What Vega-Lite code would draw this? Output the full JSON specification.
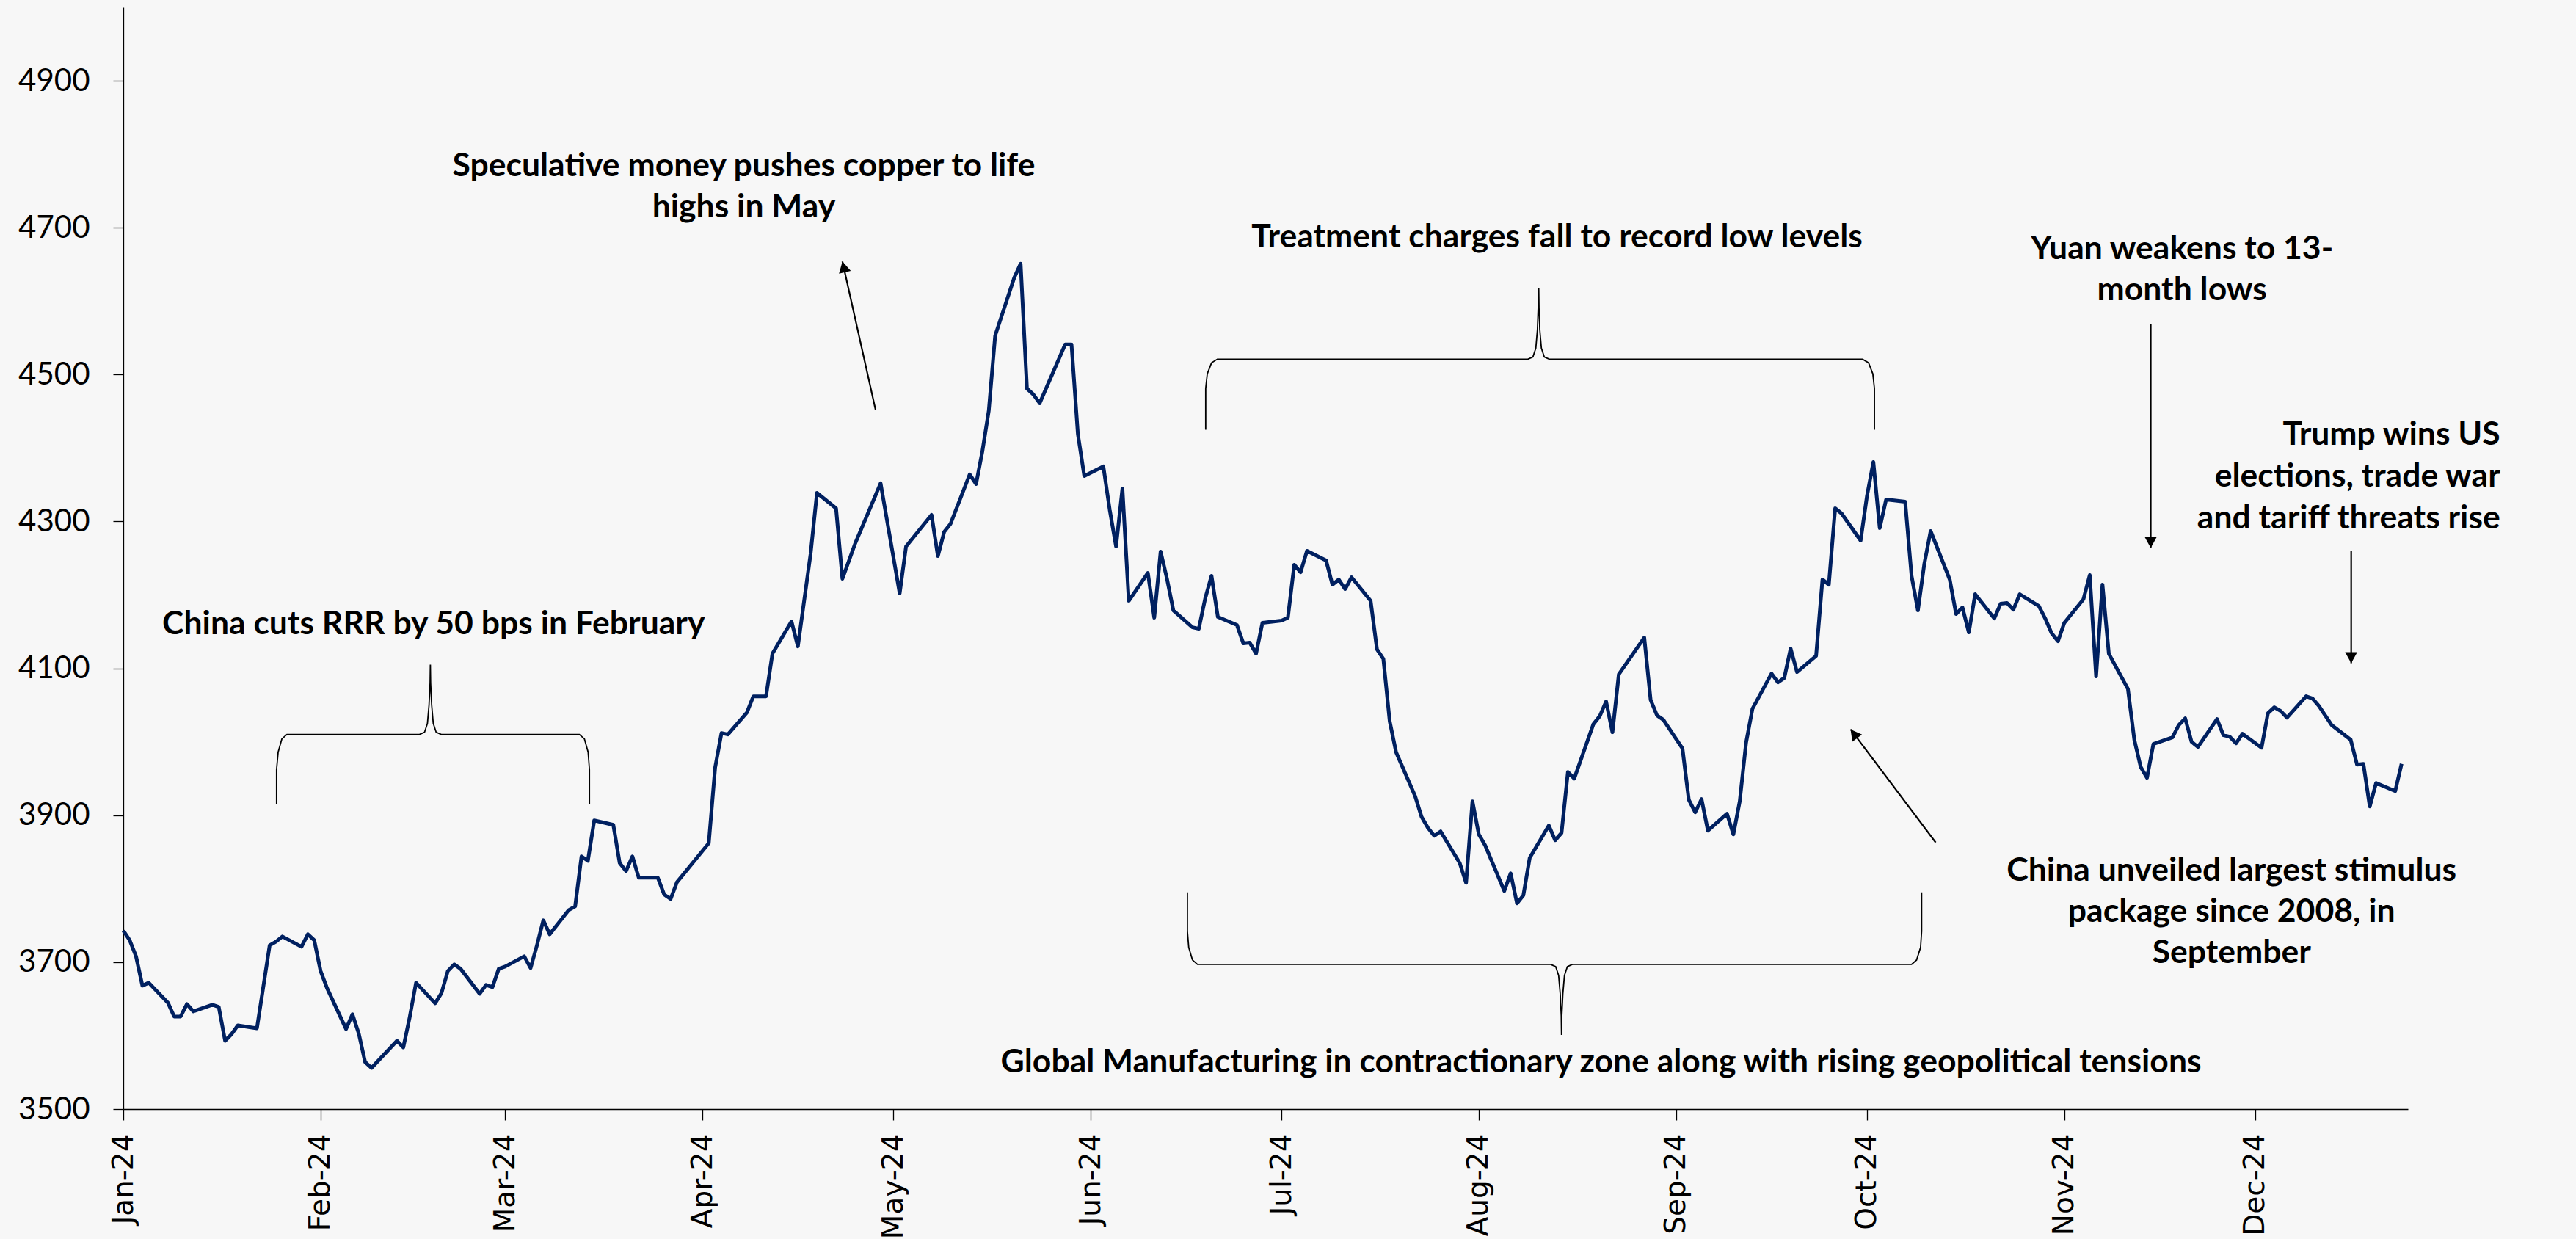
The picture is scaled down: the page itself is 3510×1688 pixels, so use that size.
{
  "$schema": "https://vega.github.io/schema/vega-lite/v6.json",
  "width": 3113,
  "height": 1501,
  "autosize": {"type": "none"},
  "padding": {"left": 168, "top": 10, "right": 229, "bottom": 177},
  "background": "#f7f7f7",
  "config": {"view": {"stroke": null}},
  "datasets": {
    "price": [
      {"date":"2024-01-01","value":3743},{"date":"2024-01-02","value":3730},{"date":"2024-01-03","value":3708},{"date":"2024-01-04","value":3668},{"date":"2024-01-05","value":3672},
      {"date":"2024-01-08","value":3645},{"date":"2024-01-09","value":3626},{"date":"2024-01-10","value":3626},{"date":"2024-01-11","value":3643},{"date":"2024-01-12","value":3633},
      {"date":"2024-01-15","value":3642},{"date":"2024-01-16","value":3639},{"date":"2024-01-17","value":3593},{"date":"2024-01-18","value":3602},{"date":"2024-01-19","value":3614},
      {"date":"2024-01-22","value":3610},{"date":"2024-01-24","value":3723},{"date":"2024-01-25","value":3728},{"date":"2024-01-26","value":3735},
      {"date":"2024-01-29","value":3721},{"date":"2024-01-30","value":3738},{"date":"2024-01-31","value":3730},{"date":"2024-02-01","value":3688},{"date":"2024-02-02","value":3665},
      {"date":"2024-02-05","value":3609},{"date":"2024-02-06","value":3629},{"date":"2024-02-07","value":3603},{"date":"2024-02-08","value":3564},{"date":"2024-02-09","value":3556},
      {"date":"2024-02-13","value":3593},{"date":"2024-02-14","value":3584},{"date":"2024-02-15","value":3625},{"date":"2024-02-16","value":3672},
      {"date":"2024-02-19","value":3644},{"date":"2024-02-20","value":3658},{"date":"2024-02-21","value":3688},{"date":"2024-02-22","value":3697},{"date":"2024-02-23","value":3691},
      {"date":"2024-02-26","value":3657},{"date":"2024-02-27","value":3669},{"date":"2024-02-28","value":3666},{"date":"2024-02-29","value":3691},{"date":"2024-03-01","value":3694},
      {"date":"2024-03-04","value":3708},{"date":"2024-03-05","value":3692},{"date":"2024-03-06","value":3723},{"date":"2024-03-07","value":3757},{"date":"2024-03-08","value":3738},
      {"date":"2024-03-11","value":3771},{"date":"2024-03-12","value":3776},{"date":"2024-03-13","value":3844},{"date":"2024-03-14","value":3838},{"date":"2024-03-15","value":3893},
      {"date":"2024-03-18","value":3887},{"date":"2024-03-19","value":3835},{"date":"2024-03-20","value":3824},{"date":"2024-03-21","value":3844},{"date":"2024-03-22","value":3815},
      {"date":"2024-03-25","value":3815},{"date":"2024-03-26","value":3792},{"date":"2024-03-27","value":3786},{"date":"2024-03-28","value":3809},
      {"date":"2024-04-02","value":3862},{"date":"2024-04-03","value":3965},{"date":"2024-04-04","value":4012},{"date":"2024-04-05","value":4010},
      {"date":"2024-04-08","value":4040},{"date":"2024-04-09","value":4062},{"date":"2024-04-11","value":4062},{"date":"2024-04-12","value":4120},
      {"date":"2024-04-15","value":4164},{"date":"2024-04-16","value":4130},{"date":"2024-04-18","value":4256},{"date":"2024-04-19","value":4339},
      {"date":"2024-04-22","value":4318},{"date":"2024-04-23","value":4222},{"date":"2024-04-25","value":4270},
      {"date":"2024-04-29","value":4352},{"date":"2024-05-02","value":4202},{"date":"2024-05-03","value":4266},
      {"date":"2024-05-07","value":4309},{"date":"2024-05-08","value":4253},{"date":"2024-05-09","value":4286},{"date":"2024-05-10","value":4297},
      {"date":"2024-05-13","value":4364},{"date":"2024-05-14","value":4351},{"date":"2024-05-15","value":4396},{"date":"2024-05-16","value":4451},{"date":"2024-05-17","value":4553},
      {"date":"2024-05-20","value":4632},{"date":"2024-05-21","value":4651},{"date":"2024-05-22","value":4481},{"date":"2024-05-23","value":4473},{"date":"2024-05-24","value":4461},
      {"date":"2024-05-28","value":4541},{"date":"2024-05-29","value":4541},{"date":"2024-05-30","value":4419},{"date":"2024-05-31","value":4362},
      {"date":"2024-06-03","value":4375},{"date":"2024-06-04","value":4316},{"date":"2024-06-05","value":4266},{"date":"2024-06-06","value":4345},{"date":"2024-06-07","value":4192},
      {"date":"2024-06-10","value":4230},{"date":"2024-06-11","value":4169},{"date":"2024-06-12","value":4259},{"date":"2024-06-13","value":4222},{"date":"2024-06-14","value":4179},
      {"date":"2024-06-17","value":4156},{"date":"2024-06-18","value":4154},{"date":"2024-06-19","value":4195},{"date":"2024-06-20","value":4226},{"date":"2024-06-21","value":4170},
      {"date":"2024-06-24","value":4159},{"date":"2024-06-25","value":4134},{"date":"2024-06-26","value":4135},{"date":"2024-06-27","value":4120},{"date":"2024-06-28","value":4162},
      {"date":"2024-07-01","value":4165},{"date":"2024-07-02","value":4169},{"date":"2024-07-03","value":4241},{"date":"2024-07-04","value":4231},{"date":"2024-07-05","value":4260},
      {"date":"2024-07-08","value":4247},{"date":"2024-07-09","value":4214},{"date":"2024-07-10","value":4221},{"date":"2024-07-11","value":4208},{"date":"2024-07-12","value":4224},
      {"date":"2024-07-15","value":4192},{"date":"2024-07-16","value":4126},{"date":"2024-07-17","value":4113},{"date":"2024-07-18","value":4028},{"date":"2024-07-19","value":3986},
      {"date":"2024-07-22","value":3926},{"date":"2024-07-23","value":3898},{"date":"2024-07-24","value":3883},{"date":"2024-07-25","value":3872},{"date":"2024-07-26","value":3878},
      {"date":"2024-07-29","value":3835},{"date":"2024-07-30","value":3808},{"date":"2024-07-31","value":3919},{"date":"2024-08-01","value":3874},{"date":"2024-08-02","value":3859},
      {"date":"2024-08-05","value":3797},{"date":"2024-08-06","value":3821},{"date":"2024-08-07","value":3780},{"date":"2024-08-08","value":3791},{"date":"2024-08-09","value":3842},
      {"date":"2024-08-12","value":3886},{"date":"2024-08-13","value":3866},{"date":"2024-08-14","value":3876},{"date":"2024-08-15","value":3959},{"date":"2024-08-16","value":3950},
      {"date":"2024-08-19","value":4024},{"date":"2024-08-20","value":4035},{"date":"2024-08-21","value":4055},{"date":"2024-08-22","value":4013},{"date":"2024-08-23","value":4092},
      {"date":"2024-08-27","value":4142},{"date":"2024-08-28","value":4057},{"date":"2024-08-29","value":4036},{"date":"2024-08-30","value":4030},
      {"date":"2024-09-02","value":3991},{"date":"2024-09-03","value":3921},{"date":"2024-09-04","value":3904},{"date":"2024-09-05","value":3922},{"date":"2024-09-06","value":3879},
      {"date":"2024-09-09","value":3902},{"date":"2024-09-10","value":3874},{"date":"2024-09-11","value":3919},{"date":"2024-09-12","value":3999},{"date":"2024-09-13","value":4045},
      {"date":"2024-09-16","value":4093},{"date":"2024-09-17","value":4081},{"date":"2024-09-18","value":4087},{"date":"2024-09-19","value":4127},{"date":"2024-09-20","value":4095},
      {"date":"2024-09-23","value":4117},{"date":"2024-09-24","value":4221},{"date":"2024-09-25","value":4214},{"date":"2024-09-26","value":4318},{"date":"2024-09-27","value":4311},
      {"date":"2024-09-30","value":4274},{"date":"2024-10-01","value":4335},{"date":"2024-10-02","value":4381},{"date":"2024-10-03","value":4291},{"date":"2024-10-04","value":4330},
      {"date":"2024-10-07","value":4327},{"date":"2024-10-08","value":4226},{"date":"2024-10-09","value":4179},{"date":"2024-10-10","value":4242},{"date":"2024-10-11","value":4287},
      {"date":"2024-10-14","value":4221},{"date":"2024-10-15","value":4174},{"date":"2024-10-16","value":4183},{"date":"2024-10-17","value":4149},{"date":"2024-10-18","value":4201},
      {"date":"2024-10-21","value":4168},{"date":"2024-10-22","value":4188},{"date":"2024-10-23","value":4189},{"date":"2024-10-24","value":4180},{"date":"2024-10-25","value":4201},
      {"date":"2024-10-28","value":4185},{"date":"2024-10-29","value":4168},{"date":"2024-10-30","value":4148},{"date":"2024-10-31","value":4137},{"date":"2024-11-01","value":4162},
      {"date":"2024-11-04","value":4194},{"date":"2024-11-05","value":4227},{"date":"2024-11-06","value":4089},{"date":"2024-11-07","value":4214},{"date":"2024-11-08","value":4120},
      {"date":"2024-11-11","value":4072},{"date":"2024-11-12","value":4003},{"date":"2024-11-13","value":3966},{"date":"2024-11-14","value":3951},{"date":"2024-11-15","value":3997},
      {"date":"2024-11-18","value":4006},{"date":"2024-11-19","value":4023},{"date":"2024-11-20","value":4032},{"date":"2024-11-21","value":4000},{"date":"2024-11-22","value":3993},
      {"date":"2024-11-25","value":4031},{"date":"2024-11-26","value":4009},{"date":"2024-11-27","value":4007},{"date":"2024-11-28","value":3998},{"date":"2024-11-29","value":4011},
      {"date":"2024-12-02","value":3992},{"date":"2024-12-03","value":4039},{"date":"2024-12-04","value":4047},{"date":"2024-12-05","value":4042},{"date":"2024-12-06","value":4033},
      {"date":"2024-12-09","value":4062},{"date":"2024-12-10","value":4059},{"date":"2024-12-11","value":4049},{"date":"2024-12-13","value":4023},
      {"date":"2024-12-16","value":4003},{"date":"2024-12-17","value":3969},{"date":"2024-12-18","value":3970},{"date":"2024-12-19","value":3912},{"date":"2024-12-20","value":3944},
      {"date":"2024-12-23","value":3933},{"date":"2024-12-24","value":3970}
    ],
    "braces": [
      {"b":"b1","i":1,"date":"2024-01-25T02:00:00Z","value":3915},
      {"b":"b1","i":2,"date":"2024-01-25T02:00:00Z","value":3962},
      {"b":"b1","i":3,"date":"2024-01-25T08:00:00Z","value":3986},
      {"b":"b1","i":4,"date":"2024-01-25T22:00:00Z","value":4004},
      {"b":"b1","i":5,"date":"2024-01-26T17:00:00Z","value":4010},
      {"b":"b1","i":6,"date":"2024-02-16T13:00:00Z","value":4010},
      {"b":"b1","i":7,"date":"2024-02-17T08:00:00Z","value":4013},
      {"b":"b1","i":8,"date":"2024-02-17T19:00:00Z","value":4025},
      {"b":"b1","i":9,"date":"2024-02-18T01:00:00Z","value":4050},
      {"b":"b1","i":10,"date":"2024-02-18T05:00:00Z","value":4080},
      {"b":"b1","i":11,"date":"2024-02-18T06:00:00Z","value":4105},
      {"b":"b1","i":12,"date":"2024-02-18T07:00:00Z","value":4080},
      {"b":"b1","i":13,"date":"2024-02-18T11:00:00Z","value":4050},
      {"b":"b1","i":14,"date":"2024-02-18T17:00:00Z","value":4025},
      {"b":"b1","i":15,"date":"2024-02-19T04:00:00Z","value":4013},
      {"b":"b1","i":16,"date":"2024-02-19T23:00:00Z","value":4010},
      {"b":"b1","i":17,"date":"2024-03-12T16:00:00Z","value":4010},
      {"b":"b1","i":18,"date":"2024-03-13T11:00:00Z","value":4004},
      {"b":"b1","i":19,"date":"2024-03-14T01:00:00Z","value":3986},
      {"b":"b1","i":20,"date":"2024-03-14T06:00:00Z","value":3962},
      {"b":"b1","i":21,"date":"2024-03-14T06:00:00Z","value":3915},
      {"b":"b2","i":1,"date":"2024-06-19T02:00:00Z","value":4425},
      {"b":"b2","i":2,"date":"2024-06-19T02:00:00Z","value":4481},
      {"b":"b2","i":3,"date":"2024-06-19T08:00:00Z","value":4501},
      {"b":"b2","i":4,"date":"2024-06-20T00:00:00Z","value":4516},
      {"b":"b2","i":5,"date":"2024-06-20T22:00:00Z","value":4521},
      {"b":"b2","i":6,"date":"2024-08-08T17:00:00Z","value":4521},
      {"b":"b2","i":7,"date":"2024-08-09T12:00:00Z","value":4524},
      {"b":"b2","i":8,"date":"2024-08-09T23:00:00Z","value":4536},
      {"b":"b2","i":9,"date":"2024-08-10T05:00:00Z","value":4561},
      {"b":"b2","i":10,"date":"2024-08-10T08:00:00Z","value":4591},
      {"b":"b2","i":11,"date":"2024-08-10T10:00:00Z","value":4618},
      {"b":"b2","i":12,"date":"2024-08-10T11:00:00Z","value":4591},
      {"b":"b2","i":13,"date":"2024-08-10T14:00:00Z","value":4561},
      {"b":"b2","i":14,"date":"2024-08-10T20:00:00Z","value":4536},
      {"b":"b2","i":15,"date":"2024-08-11T07:00:00Z","value":4524},
      {"b":"b2","i":16,"date":"2024-08-12T02:00:00Z","value":4521},
      {"b":"b2","i":17,"date":"2024-09-30T07:00:00Z","value":4521},
      {"b":"b2","i":18,"date":"2024-10-01T06:00:00Z","value":4516},
      {"b":"b2","i":19,"date":"2024-10-01T22:00:00Z","value":4501},
      {"b":"b2","i":20,"date":"2024-10-02T04:00:00Z","value":4481},
      {"b":"b2","i":21,"date":"2024-10-02T04:00:00Z","value":4425},
      {"b":"b3","i":1,"date":"2024-06-16T05:00:00Z","value":3795},
      {"b":"b3","i":2,"date":"2024-06-16T05:00:00Z","value":3742},
      {"b":"b3","i":3,"date":"2024-06-16T10:00:00Z","value":3720},
      {"b":"b3","i":4,"date":"2024-06-17T00:00:00Z","value":3703},
      {"b":"b3","i":5,"date":"2024-06-17T19:00:00Z","value":3697},
      {"b":"b3","i":6,"date":"2024-08-12T07:00:00Z","value":3697},
      {"b":"b3","i":7,"date":"2024-08-13T02:00:00Z","value":3694},
      {"b":"b3","i":8,"date":"2024-08-13T13:00:00Z","value":3682},
      {"b":"b3","i":9,"date":"2024-08-13T19:00:00Z","value":3657},
      {"b":"b3","i":10,"date":"2024-08-13T23:00:00Z","value":3627},
      {"b":"b3","i":11,"date":"2024-08-14T00:00:00Z","value":3601},
      {"b":"b3","i":12,"date":"2024-08-14T01:00:00Z","value":3627},
      {"b":"b3","i":13,"date":"2024-08-14T05:00:00Z","value":3657},
      {"b":"b3","i":14,"date":"2024-08-14T11:00:00Z","value":3682},
      {"b":"b3","i":15,"date":"2024-08-14T22:00:00Z","value":3694},
      {"b":"b3","i":16,"date":"2024-08-15T17:00:00Z","value":3697},
      {"b":"b3","i":17,"date":"2024-10-08T00:00:00Z","value":3697},
      {"b":"b3","i":18,"date":"2024-10-08T19:00:00Z","value":3703},
      {"b":"b3","i":19,"date":"2024-10-09T10:00:00Z","value":3720},
      {"b":"b3","i":20,"date":"2024-10-09T14:00:00Z","value":3742},
      {"b":"b3","i":21,"date":"2024-10-09T14:00:00Z","value":3795}
    ],
    "arrows": [
      {"name":"may","date":"2024-04-23T00:00:00Z","value":4654,"date2":"2024-04-28T05:00:00Z","value2":4452},
      {"name":"yuan","date":"2024-11-14T14:00:00Z","value":4264,"date2":"2024-11-14T14:00:00Z","value2":4569},
      {"name":"trump","date":"2024-12-16T02:00:00Z","value":4107,"date2":"2024-12-16T02:00:00Z","value2":4260},
      {"name":"stimulus","date":"2024-09-28T10:00:00Z","value":4017,"date2":"2024-10-11T19:00:00Z","value2":3863}
    ],
    "notes": [
      {"label":"China cuts RRR by 50 bps in February","date":"2024-02-18T18:00:00Z","value":4147},
      {"label":"Speculative money pushes copper to life\nhighs in May","date":"2024-04-07T12:00:00Z","value":4770},
      {"label":"Treatment charges fall to record low levels","date":"2024-08-13T07:00:00Z","value":4673},
      {"label":"Yuan weakens to 13-\nmonth lows","date":"2024-11-19T12:00:00Z","value":4657},
      {"label":"China unveiled largest stimulus\npackage since 2008, in\nSeptember","date":"2024-11-27T07:00:00Z","value":3811},
      {"label":"Global Manufacturing in contractionary zone along with rising geopolitical tensions","date":"2024-08-20T05:00:00Z","value":3550}
    ],
    "notesRight": [
      {"label":"Trump wins US\nelections, trade war\nand tariff threats rise","date":"2025-01-08T12:00:00Z","value":4404}
    ]
  },
  "encoding": {
    "x": {
      "field": "date",
      "type": "temporal",
      "scale": {"type": "utc", "domain": [{"year": 2024, "month": 1, "date": 1, "utc": true}, {"year": 2024, "month": 12, "date": 25, "utc": true}]},
      "axis": {
        "title": null,
        "grid": false,
        "values": [
          {"year": 2024, "month": 1, "date": 1, "utc": true},
          {"year": 2024, "month": 2, "date": 1, "utc": true},
          {"year": 2024, "month": 3, "date": 1, "utc": true},
          {"year": 2024, "month": 4, "date": 1, "utc": true},
          {"year": 2024, "month": 5, "date": 1, "utc": true},
          {"year": 2024, "month": 6, "date": 1, "utc": true},
          {"year": 2024, "month": 7, "date": 1, "utc": true},
          {"year": 2024, "month": 8, "date": 1, "utc": true},
          {"year": 2024, "month": 9, "date": 1, "utc": true},
          {"year": 2024, "month": 10, "date": 1, "utc": true},
          {"year": 2024, "month": 11, "date": 1, "utc": true},
          {"year": 2024, "month": 12, "date": 1, "utc": true}
        ],
        "format": "%b-%y",
        "labelAngle": 270,
        "labelFont": "DejaVu Sans",
        "labelFontSize": 39,
        "labelColor": "#000000",
        "labelPadding": 18,
        "labelFlush": false,
        "labelOverlap": false,
        "tickColor": "#000000",
        "tickSize": 15,
        "tickWidth": 1.3,
        "domainColor": "#000000",
        "domainWidth": 1.6
      }
    },
    "y": {
      "field": "value",
      "type": "quantitative",
      "scale": {"domain": [3500, 5000], "nice": false, "zero": false},
      "axis": {
        "title": null,
        "grid": false,
        "values": [3500, 3700, 3900, 4100, 4300, 4500, 4700, 4900],
        "format": "d",
        "labelFont": "Lato",
        "labelFontSize": 42,
        "labelColor": "#000000",
        "labelPadding": 32,
        "tickColor": "#000000",
        "tickSize": 14,
        "tickWidth": 1.3,
        "domainColor": "#000000",
        "domainWidth": 1.3
      }
    }
  },
  "layer": [
    {
      "data": {"name": "braces"},
      "mark": {"type": "line", "color": "#000000", "strokeWidth": 1.8},
      "encoding": {"detail": {"field": "b"}, "order": {"field": "i", "type": "quantitative"}}
    },
    {
      "data": {"name": "arrows"},
      "mark": {"type": "rule", "color": "#000000", "strokeWidth": 2.2},
      "encoding": {"x2": {"field": "date2"}, "y2": {"field": "value2"}}
    },
    {
      "data": {"name": "arrows"},
      "transform": [{"filter": "datum.name === 'yuan' || datum.name === 'trump'"}],
      "mark": {"type": "point", "shape": "M0,0L-0.55,1L0.55,1Z", "size": 900, "filled": true, "color": "#000000", "opacity": 1, "strokeWidth": 0, "angle": 180},
      "encoding": {}
    },
    {
      "data": {"name": "arrows"},
      "transform": [{"filter": "datum.name === 'may'"}],
      "mark": {"type": "point", "shape": "M0,0L-0.55,1L0.55,1Z", "size": 900, "filled": true, "color": "#000000", "opacity": 1, "strokeWidth": 0, "angle": 347},
      "encoding": {}
    },
    {
      "data": {"name": "arrows"},
      "transform": [{"filter": "datum.name === 'stimulus'"}],
      "mark": {"type": "point", "shape": "M0,0L-0.55,1L0.55,1Z", "size": 900, "filled": true, "color": "#000000", "opacity": 1, "strokeWidth": 0, "angle": 323},
      "encoding": {}
    },
    {
      "data": {"name": "price"},
      "mark": {"type": "line", "color": "#002060", "strokeWidth": 5, "strokeJoin": "round"},
      "encoding": {}
    },
    {
      "data": {"name": "notes"},
      "mark": {"type": "text", "font": "Lato", "fontWeight": "bold", "fontSize": 44.5, "color": "#000000", "align": "center", "baseline": "alphabetic", "lineBreak": "\n", "lineHeight": 56},
      "encoding": {"text": {"field": "label"}}
    },
    {
      "data": {"name": "notesRight"},
      "mark": {"type": "text", "font": "Lato", "fontWeight": "bold", "fontSize": 44.5, "color": "#000000", "align": "right", "baseline": "alphabetic", "lineBreak": "\n", "lineHeight": 57},
      "encoding": {"text": {"field": "label"}}
    }
  ]
}
